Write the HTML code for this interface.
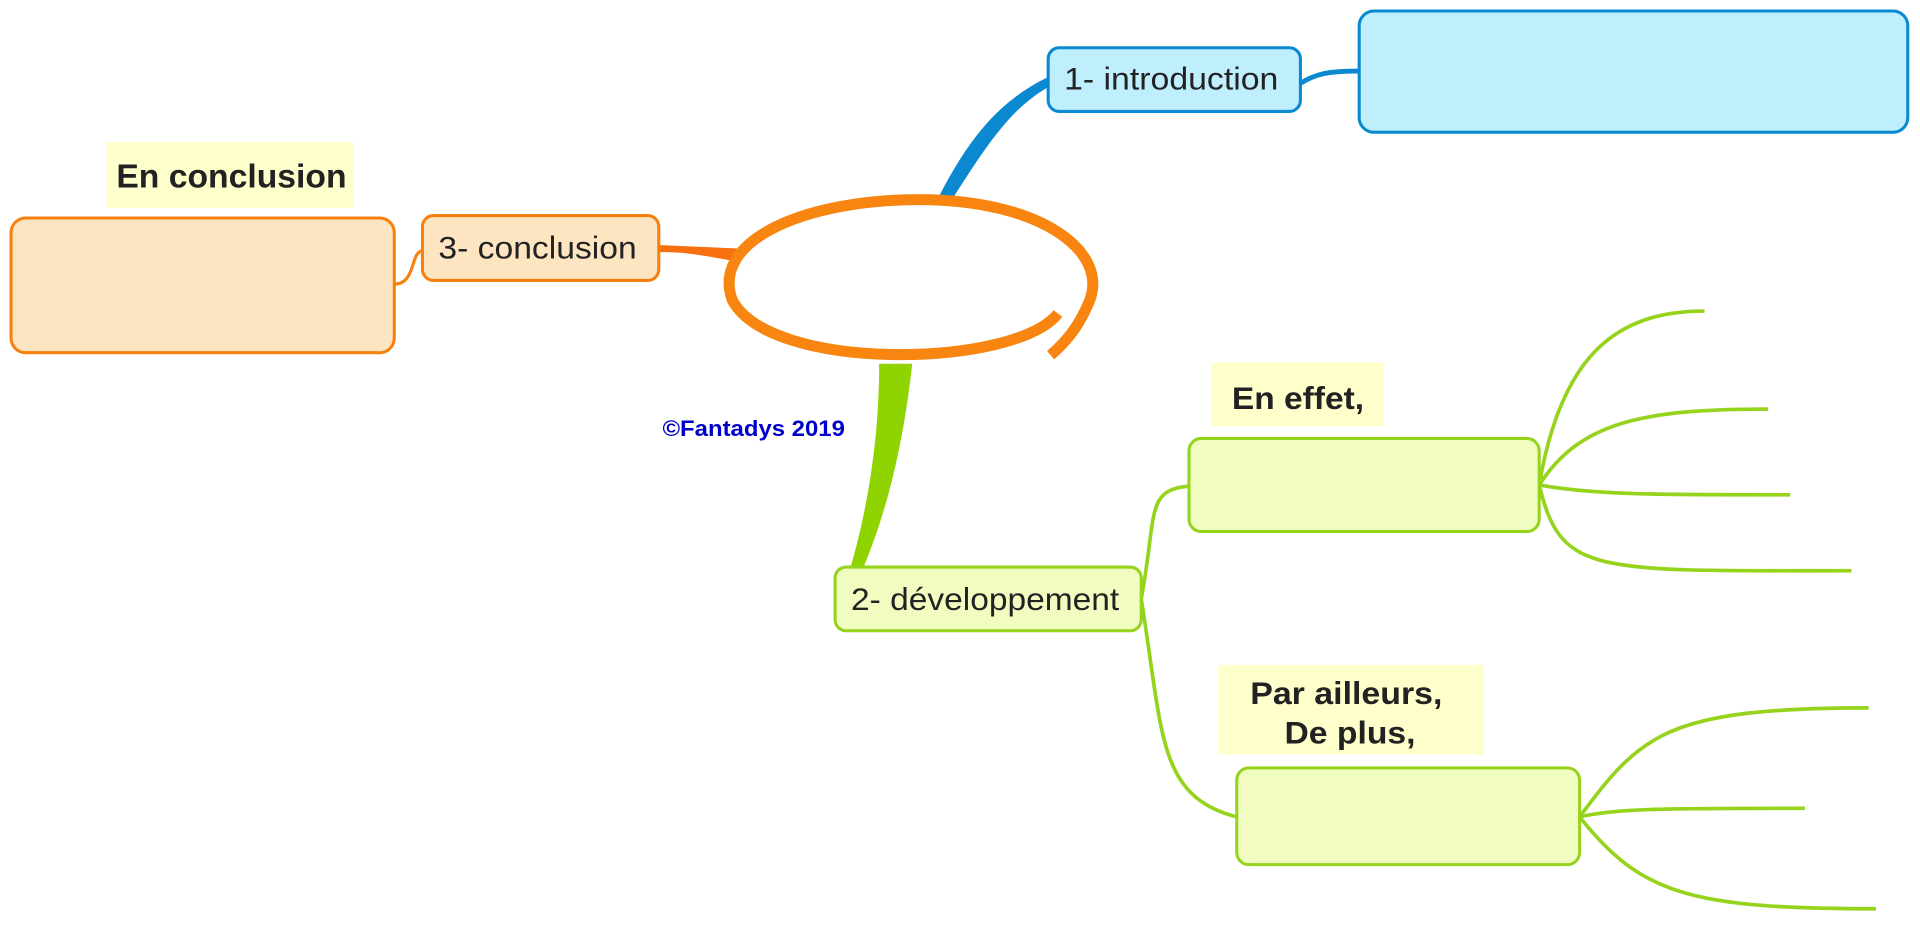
<!DOCTYPE html>
<html><head><meta charset="utf-8"><style>
html,body{margin:0;padding:0;background:#fff;overflow:hidden}
svg{display:block}
text{font-family:"Liberation Sans",sans-serif}
</style></head><body>
<svg width="1920" height="932" viewBox="0 0 1568 761" preserveAspectRatio="none">
<path d="M766,162 C790,115 815,82 858,62 L858,70 C825,88 805,120 778,162 Z" fill="#0a88d0"/>
<path d="M1062,68 C1075,60 1085,58 1110,58" stroke="#0a88d0" stroke-width="4" fill="none"/>
<rect x="856" y="39" width="206" height="52" rx="9" fill="#bfeefc" stroke="#0a88d0" stroke-width="2.5"/>
<text x="869" y="73" font-size="26" textLength="175" lengthAdjust="spacingAndGlyphs" fill="#222">1- introduction</text>
<rect x="1110" y="9" width="448" height="99" rx="12" fill="#bfeefc" stroke="#0a88d0" stroke-width="2.5"/>
<path d="M538,200 L605,203 L605,214 C580,210 560,205 538,206 Z" fill="#f7700f"/>
<path d="M322,232 C340,232 335,205 345,205" stroke="#f7800f" stroke-width="2.5" fill="none"/>
<rect x="9" y="178" width="313" height="110" rx="12" fill="#fde5c1" stroke="#f7800f" stroke-width="2.5"/>
<rect x="345" y="176" width="193" height="53" rx="9" fill="#fde5c1" stroke="#f7800f" stroke-width="2.5"/>
<text x="358" y="211" font-size="26" textLength="162" lengthAdjust="spacingAndGlyphs" fill="#222">3- conclusion</text>
<rect x="87" y="116" width="202" height="54" fill="#ffffcc"/>
<text x="95" y="153" font-size="27" font-weight="bold" textLength="188" lengthAdjust="spacingAndGlyphs" fill="#222">En conclusion</text>
<path d="M718,297 L745,297 C738,360 725,420 700,475 L692,472 C708,420 718,360 718,297 Z" fill="#8fd400"/>
<path d="M864,256 C830,300 630,305 598,245 C580,195 660,163 750,163 C850,163 905,205 890,245 C882,265 872,278 858,290" stroke="#f7850f" stroke-width="9" fill="none"/>
<text x="541" y="356" font-size="18" font-weight="bold" textLength="149" lengthAdjust="spacingAndGlyphs" fill="#0000cc">©Fantadys 2019</text>
<g stroke="#96d31d" stroke-width="3" fill="none">
<path d="M932,489 C945,420 935,400 971,397"/>
<path d="M932,489 C950,600 945,650 1010,667"/>
<path d="M1257,396 C1275,290 1320,254 1392,254"/>
<path d="M1257,396 C1290,345 1340,334 1444,334"/>
<path d="M1257,396 C1300,404 1350,404 1462,404"/>
<path d="M1257,396 C1275,470 1300,466 1512,466"/>
<path d="M1290,667 C1340,600 1360,578 1526,578"/>
<path d="M1290,667 C1320,660 1360,660 1474,660"/>
<path d="M1290,667 C1340,730 1380,742 1532,742"/>
</g>
<rect x="682" y="463" width="250" height="52" rx="9" fill="#f1fdc0" stroke="#96d31d" stroke-width="2.5"/>
<text x="695" y="498" font-size="26" textLength="219" lengthAdjust="spacingAndGlyphs" fill="#222">2- développement</text>
<rect x="989" y="296" width="141" height="52" fill="#ffffcc"/>
<text x="1006" y="334" font-size="26" font-weight="bold" textLength="108" lengthAdjust="spacingAndGlyphs" fill="#222">En effet,</text>
<rect x="971" y="358" width="286" height="76" rx="10" fill="#f1fdc0" stroke="#96d31d" stroke-width="2.5"/>
<rect x="995" y="543" width="217" height="73" fill="#ffffcc"/>
<text x="1021" y="575" font-size="26" font-weight="bold" textLength="157" lengthAdjust="spacingAndGlyphs" fill="#222">Par ailleurs,</text>
<text x="1049" y="607" font-size="26" font-weight="bold" textLength="107" lengthAdjust="spacingAndGlyphs" fill="#222">De plus,</text>
<rect x="1010" y="627" width="280" height="79" rx="10" fill="#f1fdc0" stroke="#96d31d" stroke-width="2.5"/>
</svg>
</body></html>
